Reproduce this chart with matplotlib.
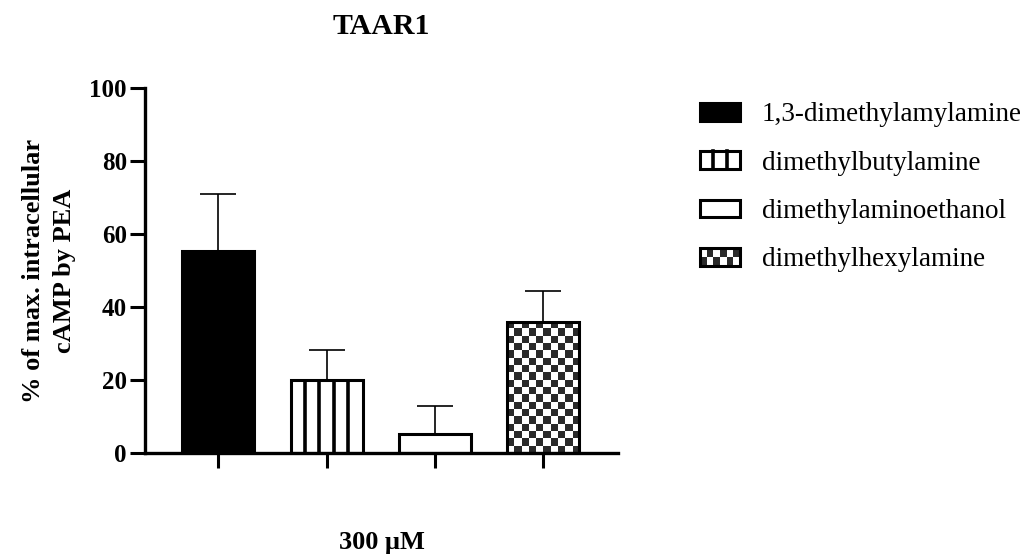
import numpy as np
import matplotlib
matplotlib.use('Agg')
import matplotlib.pyplot as plt
from matplotlib.patches import Rectangle, Patch
from matplotlib.lines import Line2D
from matplotlib.colors import ListedColormap
from matplotlib.legend_handler import HandlerBase

# TAAR1 response at 300 uM (mean and upper SEM)
compounds = ['1,3-dimethylamylamine', 'dimethylbutylamine',
             'dimethylaminoethanol', 'dimethylhexylamine']
values = [55.5, 20.0, 5.3, 35.9]
errors = [15.5, 8.4, 7.7, 8.5]
yticks = [0, 20, 40, 60, 80, 100]

plt.rcParams['font.family'] = ['Liberation Serif', 'DejaVu Serif']

EDGE = 2.2
DARK = '#2a2a2a'

fig = plt.figure(figsize=(10.34, 5.54), dpi=100)
ax = fig.add_axes([0.1402, 0.1818, 0.4574, 0.659])

x = np.arange(len(values))
faces = ['black', 'white', 'white', 'none']
bars = ax.bar(x, values, width=0.665, color=faces, edgecolor='black',
              linewidth=EDGE, zorder=2)

ax.errorbar(x, values, yerr=[np.zeros(len(errors)), errors], fmt='none',
            ecolor='black', elinewidth=1.2, capsize=13, capthick=1.2, zorder=1)

# vertical stripes in the second bar
b2 = bars[1]
for k in range(1, 5):
    xs = b2.get_x() + k * b2.get_width() / 5
    ax.plot([xs, xs], [0, b2.get_height()], color='black', lw=2.6,
            solid_capstyle='butt', zorder=2.5)

# checkerboard fill for the last bar
def checker(ny, nx):
    return (np.add.outer(np.arange(ny), np.arange(nx)) % 2).astype(float)

b4 = bars[3]
img = ax.imshow(checker(18, 10), cmap=ListedColormap([DARK, 'white']),
                vmin=0, vmax=1,
                extent=[b4.get_x(), b4.get_x() + b4.get_width(), 0, b4.get_height()],
                aspect='auto', interpolation='nearest', zorder=1.5)
img.set_clip_path(b4)

ax.set_xlim(-0.677, 3.69)
ax.set_ylim(0, 100)
ax.set_yticks(yticks)
ax.set_xticks(x)
ax.set_xticklabels([''] * len(x))
for s in ['top', 'right']:
    ax.spines[s].set_visible(False)
for s in ['left', 'bottom']:
    ax.spines[s].set_linewidth(2.4)
ax.tick_params(axis='y', length=11, width=2.2, labelsize=18, pad=2)
ax.tick_params(axis='x', length=10.5, width=2.2)
for lab in ax.get_yticklabels():
    lab.set_fontweight('bold')

ax.text(0.5, 1.169, 'TAAR1', transform=ax.transAxes, ha='center', va='center',
        fontsize=21.5, fontweight='bold')
ax.text(0.5, -0.245, '300 μM', transform=ax.transAxes, ha='center', va='center',
        fontsize=19, fontweight='bold')
ax.text(-0.203, 0.5, '% of max. intracellular\ncAMP by PEA', transform=ax.transAxes,
        rotation=90, ha='center', va='center', multialignment='center',
        fontsize=19, fontweight='bold', linespacing=1.45)


class StripeHandler(HandlerBase):
    def create_artists(self, legend, orig_handle, xdescent, ydescent,
                       width, height, fontsize, trans):
        x0, y0 = -xdescent, -ydescent
        arts = [Rectangle((x0, y0), width, height, facecolor='white',
                          edgecolor='black', linewidth=EDGE, transform=trans)]
        for k in (1, 2):
            xs = x0 + k * width / 3
            arts.append(Line2D([xs, xs], [y0, y0 + height], color='black',
                               lw=2.6, transform=trans))
        return arts


class CheckerHandler(HandlerBase):
    def create_artists(self, legend, orig_handle, xdescent, ydescent,
                       width, height, fontsize, trans):
        x0, y0 = -xdescent, -ydescent
        arts = [Rectangle((x0, y0), width, height, facecolor='white',
                          edgecolor='none', transform=trans)]
        nx, ny = 6, 2
        dw, dh = width / nx, height / ny
        for r in range(ny):
            for c in range(nx):
                if (r + c) % 2 == 0:
                    arts.append(Rectangle((x0 + c * dw, y0 + r * dh), dw, dh,
                                          facecolor=DARK, edgecolor='none',
                                          transform=trans))
        arts.append(Rectangle((x0, y0), width, height, facecolor='none',
                              edgecolor='black', linewidth=EDGE, transform=trans))
        return arts


handles = [Patch(facecolor='black', edgecolor='black', linewidth=EDGE),
           Patch(facecolor='white', edgecolor='black', linewidth=EDGE),
           Patch(facecolor='white', edgecolor='black', linewidth=EDGE),
           Patch(facecolor='white', edgecolor='black', linewidth=EDGE)]
leg = ax.legend(handles, compounds, loc='upper left',
                bbox_to_anchor=(0.677, 0.815), bbox_transform=fig.transFigure,
                frameon=False, fontsize=19.5, handlelength=1.48, handleheight=0.63,
                handletextpad=0.8, labelspacing=0.86, borderpad=0,
                borderaxespad=0,
                handler_map={handles[1]: StripeHandler(),
                             handles[3]: CheckerHandler()})

fig.savefig('out.png', dpi=100)
